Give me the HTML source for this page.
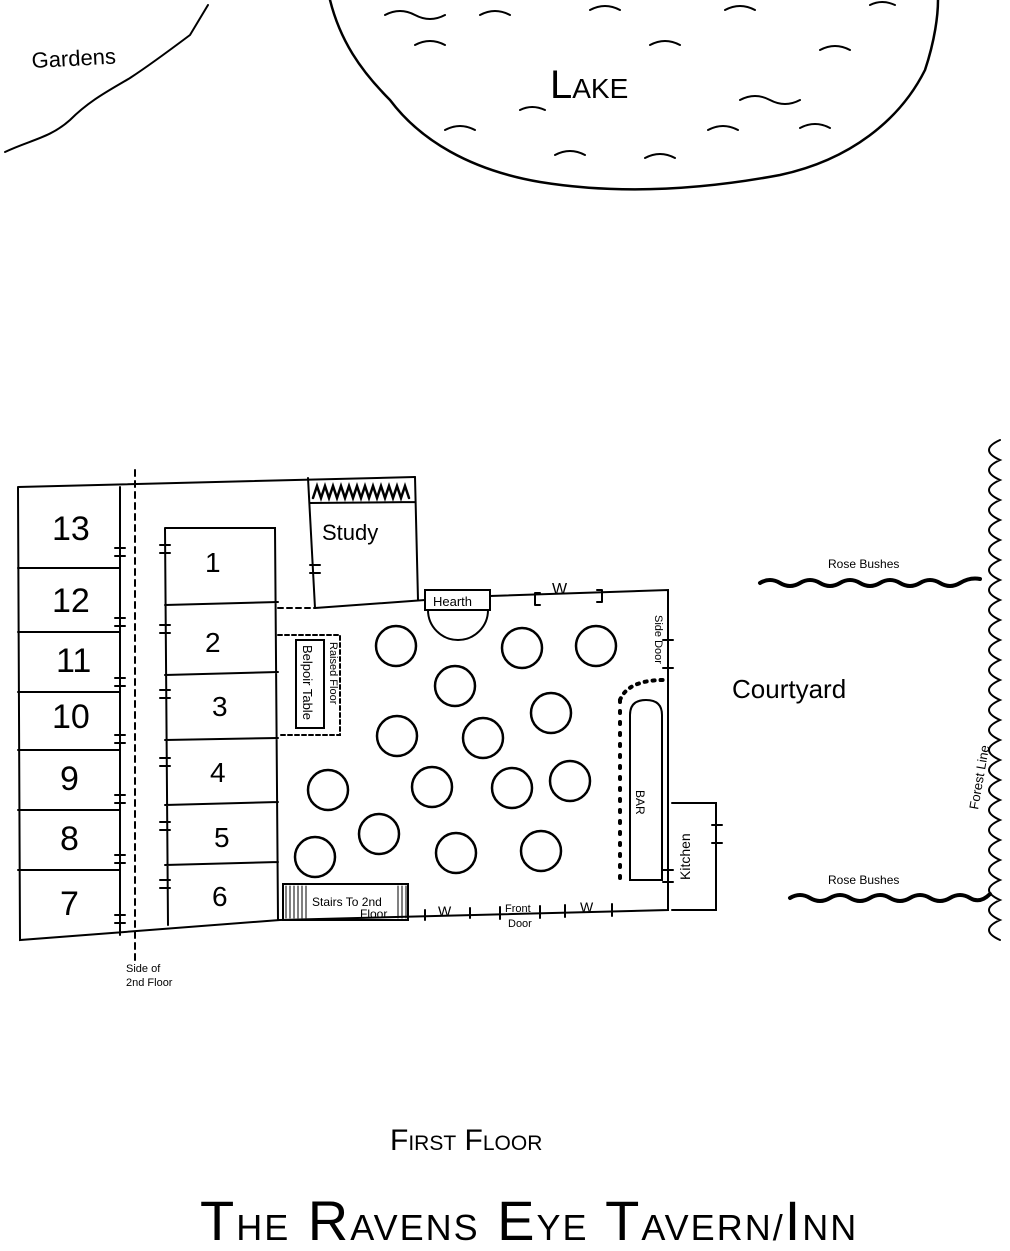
<!DOCTYPE html>
<html><head><meta charset="utf-8"><style>
html,body{margin:0;padding:0;background:#fff;}
svg{display:block}
text{font-family:"Liberation Sans",sans-serif;fill:#000}
</style></head><body>
<svg width="1010" height="1251" viewBox="0 0 1010 1251" xmlns="http://www.w3.org/2000/svg" fill="none" stroke="#000" stroke-width="2" stroke-linecap="round">
<!-- Gardens line -->
<path d="M5 152 C30 140 50 138 70 120 C90 100 110 90 130 78 C150 65 170 50 190 35 L208 5" stroke-width="2"/>
<text x="32" y="68" font-size="22" stroke="none" transform="rotate(-3 32 68)">Gardens</text>
<!-- Lake -->
<path d="M330 0 C340 40 360 70 390 100 C420 140 470 170 540 182 C620 195 700 190 780 175 C850 160 900 120 925 70 C935 40 938 15 938 0" stroke-width="2.5"/>
<path d="M385 15 q15 -8 30 0 t30 0 M480 15 q15 -8 30 0 M590 10 q15 -8 30 0 M725 10 q15 -8 30 0 M870 5 q12 -6 25 0 M415 45 q15 -8 30 0 M650 45 q15 -8 30 0 M820 50 q15 -8 30 0 M520 110 q12 -6 25 0 M740 100 q15 -8 30 0 t30 0 M445 130 q15 -8 30 0 M708 130 q15 -8 30 0 M800 128 q15 -8 30 0 M555 155 q15 -8 30 0 M645 158 q15 -8 30 0"/>
<text x="550" y="98" font-size="40" stroke="none">L<tspan font-size="28">AKE</tspan></text>
<!-- left rooms -->
<path d="M18 487 L415 477 M18 487 L20 940 L280 920 M120 487 L120 935"/>
<path d="M18 568 L120 568 M18 632 L120 632 M18 692 L120 692 M18 750 L120 750 M18 810 L120 810 M18 870 L120 870"/>
<path d="M135 470 L135 960" stroke-dasharray="6 5"/>
<g font-size="34" stroke="none" font-family="Liberation Serif">
<text x="52" y="540" font-family="Liberation Serif">13</text>
<text x="52" y="612">12</text>
<text x="56" y="672">11</text>
<text x="52" y="728">10</text>
<text x="60" y="790">9</text>
<text x="60" y="850">8</text>
<text x="60" y="915">7</text>
<text x="205" y="572" font-size="28">1</text>
<text x="205" y="652" font-size="28">2</text>
<text x="212" y="716" font-size="28">3</text>
<text x="210" y="782" font-size="28">4</text>
<text x="214" y="847" font-size="28">5</text>
<text x="212" y="906" font-size="28">6</text>
</g>
<!-- door marks -->
<path d="M115 548 h10 M115 556 h10 M115 618 h10 M115 626 h10 M115 678 h10 M115 686 h10 M115 735 h10 M115 743 h10 M115 795 h10 M115 803 h10 M115 855 h10 M115 863 h10 M115 915 h10 M115 923 h10 M160 545 h10 M160 553 h10 M160 625 h10 M160 633 h10 M160 690 h10 M160 698 h10 M160 758 h10 M160 766 h10 M160 822 h10 M160 830 h10 M160 880 h10 M160 888 h10 M310 565 h10 M310 573 h10 M712 825 h10 M712 843 h10"/>
<!-- rooms 1-6 -->
<path d="M165 528 L275 528 L278 920 M165 528 L168 925 M165 605 L278 602 M165 675 L278 672 M165 740 L278 738 M165 805 L278 802 M165 865 L278 862"/>
<!-- study -->
<path d="M308 478 L315 608 M415 477 L418 600 M310 503 L415 502"/>
<path d="M313 498 l4 -12 l4 12 l4 -12 l4 12 l4 -12 l4 12 l4 -12 l4 12 l4 -12 l4 12 l4 -12 l4 12 l4 -12 l4 12 l4 -12 l4 12 l4 -12 l4 12 l4 -12 l4 12 l4 -12 l4 12 l4 -12 l4 12" stroke-width="2.5"/>
<text x="322" y="540" font-size="22" stroke="none">Study</text>
<!-- hall -->
<path d="M278 608 L315 608" stroke-dasharray="5 4"/>
<path d="M315 608 L425 600 M490 596 L668 590 L668 910 L280 920"/>
<rect x="425" y="590" width="65" height="20"/>
<path d="M428 610 A30 30 0 0 0 488 610"/>
<text x="433" y="606" font-size="13" stroke="none">Hearth</text>
<path d="M535 593 v12 M535 593 h5 M535 605 h5 M602 590 v12 M602 590 h-5 M602 602 h-5"/>
<text x="552" y="594" font-size="16" stroke="none">W</text>
<text x="655" y="615" font-size="11" stroke="none" transform="rotate(90 655 615)">Side Door</text>
<path d="M663 640 h10 M663 668 h10"/>
<!-- raised floor -->
<path d="M278 635 L340 635 L340 735 L278 735" stroke-dasharray="4 3"/>
<rect x="296" y="640" width="28" height="88"/>
<text x="303" y="645" font-size="13" stroke="none" transform="rotate(90 303 645)">Belpoir Table</text>
<text x="330" y="642" font-size="11" stroke="none" transform="rotate(90 330 642)">Raised Floor</text>
<!-- tables -->
<g stroke-width="2.5">
<circle cx="396" cy="646" r="20"/><circle cx="522" cy="648" r="20"/><circle cx="596" cy="646" r="20"/>
<circle cx="455" cy="686" r="20"/><circle cx="551" cy="713" r="20"/>
<circle cx="397" cy="736" r="20"/><circle cx="483" cy="738" r="20"/>
<circle cx="328" cy="790" r="20"/><circle cx="432" cy="787" r="20"/><circle cx="512" cy="788" r="20"/><circle cx="570" cy="781" r="20"/>
<circle cx="379" cy="834" r="20"/><circle cx="315" cy="857" r="20"/><circle cx="456" cy="853" r="20"/><circle cx="541" cy="851" r="20"/>
</g>
<!-- bar -->
<path d="M630 880 L630 715 Q630 700 646 700 Q662 700 662 715 L662 880 Z"/>
<path d="M620 700 Q628 680 664 680" stroke-dasharray="2 6" stroke-width="4"/>
<path d="M620 700 L620 880" stroke-dasharray="2 9" stroke-width="4"/>
<text x="636" y="790" font-size="12" stroke="none" transform="rotate(90 636 790)">BAR</text>
<!-- kitchen -->
<path d="M672 803 L716 803 L716 910 L672 910"/>
<text x="690" y="880" font-size="14" stroke="none" transform="rotate(-90 690 880)">Kitchen</text>
<path d="M663 870 h10 M663 882 h10"/>
<!-- stairs -->
<rect x="283" y="884" width="125" height="36"/>
<path d="M286 886 v32 M290 886 v32 M294 886 v32 M298 886 v32 M302 886 v32 M306 886 v32 M398 886 v32 M402 886 v32 M406 886 v32" stroke-width="1"/>
<text x="312" y="906" font-size="12" stroke="none">Stairs To 2nd</text>
<text x="360" y="918" font-size="12" stroke="none">Floor</text>
<!-- windows/front door -->
<path d="M425 910 v10 M470 908 v10 M500 907 v12 M540 906 v12 M565 905 v12 M612 904 v12"/>
<text x="438" y="916" font-size="14" stroke="none">W</text>
<text x="580" y="912" font-size="14" stroke="none">W</text>
<text x="505" y="912" font-size="11" stroke="none">Front</text>
<text x="508" y="927" font-size="11" stroke="none">Door</text>
<text x="126" y="972" font-size="11" stroke="none">Side of</text>
<text x="126" y="986" font-size="11" stroke="none">2nd Floor</text>
<!-- courtyard -->
<text x="732" y="698" font-size="26" stroke="none">Courtyard</text>
<path d="M760 583 q10 -6 20 0 t20 0 t20 0 t20 0 t20 0 t20 0 t20 0 t20 0 t20 0 t20 0 t20 -4" stroke-width="4"/>
<text x="828" y="568" font-size="12" stroke="none">Rose Bushes</text>
<path d="M790 898 q10 -6 20 0 t20 0 t20 0 t20 0 t20 0 t20 0 t20 0 t20 0 t20 0 t20 -4" stroke-width="4"/>
<text x="828" y="884" font-size="12" stroke="none">Rose Bushes</text>
<!-- forest line -->
<path d="M1000 440 q-22 10 0 20 q-22 10 0 20 q-22 10 0 20 q-22 10 0 20 q-22 10 0 20 q-22 10 0 20 q-22 10 0 20 q-22 10 0 20 q-22 10 0 20 q-22 10 0 20 q-22 10 0 20 q-22 10 0 20 q-22 10 0 20 q-22 10 0 20 q-22 10 0 20 q-22 10 0 20 q-22 10 0 20 q-22 10 0 20 q-22 10 0 20 q-22 10 0 20 q-22 10 0 20 q-22 10 0 20 q-22 10 0 20 q-22 10 0 20 q-22 10 0 20"/>
<text x="978" y="810" font-size="13" stroke="none" transform="rotate(-80 978 810)">Forest Line</text>
<!-- titles -->
<text x="390" y="1150" font-size="30" stroke="none" font-family="Liberation Sans">F<tspan font-size="21">IRST</tspan> F<tspan font-size="21">LOOR</tspan></text>
<text x="200" y="1240" font-size="56" stroke="none" letter-spacing="2">T<tspan font-size="36">HE</tspan> R<tspan font-size="36">AVENS</tspan> E<tspan font-size="36">YE</tspan> T<tspan font-size="36">AVERN/</tspan>I<tspan font-size="36">NN</tspan></text>
</svg>
</body></html>
